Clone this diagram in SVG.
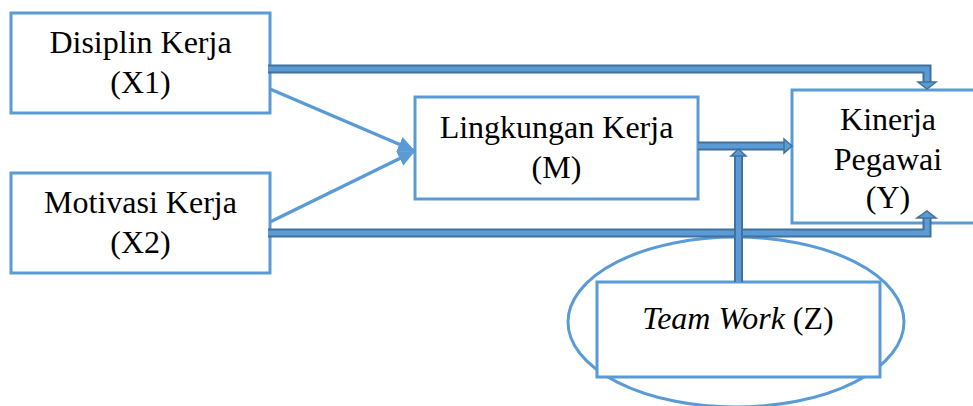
<svg xmlns="http://www.w3.org/2000/svg" width="973" height="406" viewBox="0 0 973 406">
<style>
.box{fill:#fff;stroke:#5b9bd5;stroke-width:3}
.t{font-family:"Liberation Serif","Times New Roman",serif;font-size:32px;fill:#000;text-anchor:middle}
.dl-o{fill:none;stroke:#41719c;stroke-width:9}
.dl-i{fill:none;stroke:#5b9bd5;stroke-width:5}
.dh{fill:#5b9bd5;stroke:#41719c;stroke-width:1.5;stroke-linejoin:miter}
.sl{fill:none;stroke:#5b9bd5;stroke-width:3.5}
</style>
<defs>
<marker id="ah" markerUnits="userSpaceOnUse" markerWidth="18" markerHeight="16" refX="17" refY="8" orient="auto">
<path d="M0,0 L17,8 L0,16 z" fill="#5b9bd5"/>
</marker>
</defs>
<g id="teamwork-ellipse">
<ellipse cx="736" cy="322" rx="168" ry="85" fill="none" stroke="#5b9bd5" stroke-width="3"/>
</g>
<g id="node-x1">
<rect class="box" x="11" y="13" width="259" height="100"/>
<text class="t" x="140.5" y="53">Disiplin Kerja</text>
<text class="t" x="140.5" y="93">(X1)</text>
</g>
<g id="node-x2">
<rect class="box" x="11" y="173" width="259" height="100"/>
<text class="t" x="140.5" y="213">Motivasi Kerja</text>
<text class="t" x="140.5" y="253">(X2)</text>
</g>
<g id="node-m">
<rect class="box" x="415" y="97" width="283" height="102"/>
<text class="t" x="556.5" y="138">Lingkungan Kerja</text>
<text class="t" x="556.5" y="178">(M)</text>
</g>
<g id="node-y">
<rect class="box" x="792" y="90" width="192" height="133"/>
<text class="t" x="888" y="130">Kinerja</text>
<text class="t" x="888" y="170">Pegawai</text>
<text class="t" x="888" y="208">(Y)</text>
</g>
<g id="node-z">
<rect class="box" x="597" y="282" width="283" height="95"/>
<text class="t" x="738" y="329"><tspan font-style="italic">Team Work</tspan> (Z)</text>
</g>
<g id="connectors">
<line class="sl" x1="270" y1="89" x2="415" y2="151" marker-end="url(#ah)"/>
<line class="sl" x1="270" y1="222" x2="415" y2="151" marker-end="url(#ah)"/>
<path class="dl-o" d="M268,69 H927 V82"/>
<path class="dl-i" d="M268,69 H927 V82"/>
<polygon class="dh" points="918,82 936,82 927,89"/>
<path class="dl-o" d="M268,233 H927 V218"/>
<path class="dl-i" d="M268,233 H927 V218"/>
<polygon class="dh" points="917,218 936,218 927,211"/>
<path class="dl-o" d="M698,146 H785" stroke-width="7"/>
<path class="dl-i" d="M698,146 H785" stroke-width="3.5"/>
<polygon class="dh" points="784,139 792,146 784,153"/>
<path class="dl-o" d="M738.5,282 V156"/>
<path class="dl-i" d="M738.5,282 V156"/>
<polygon class="dh" points="731,156 746,156 738.5,149"/>
</g>
</svg>
